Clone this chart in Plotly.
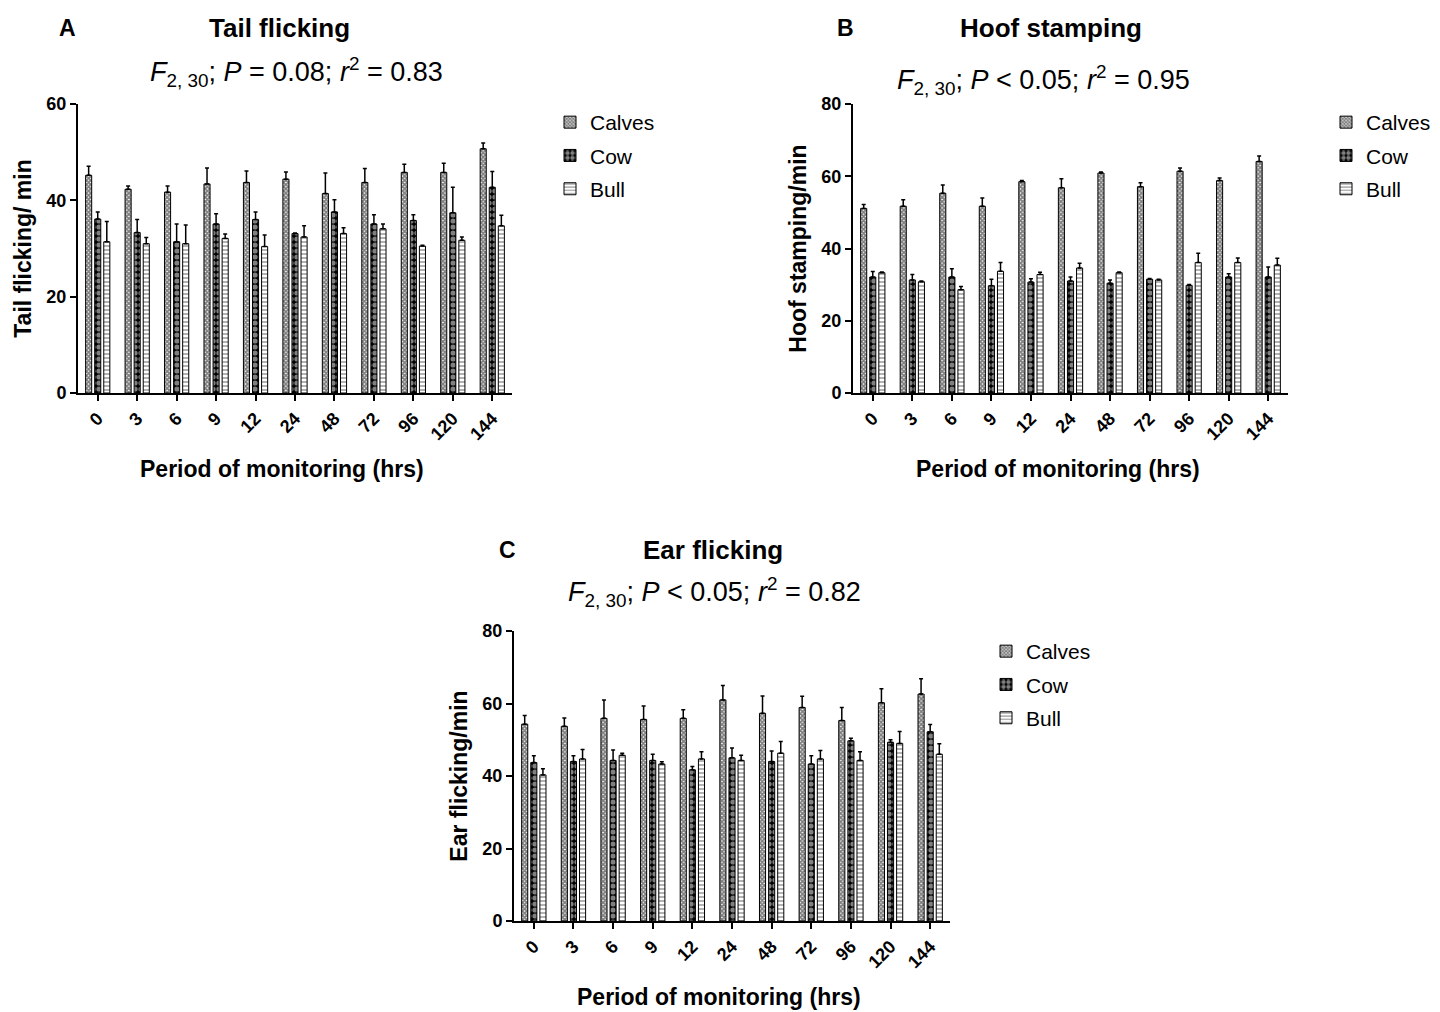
import plotly.graph_objects as go

periods = ["0", "3", "6", "9", "12", "24", "48", "72", "96", "120", "144"]
series_names = ["Calves", "Cow", "Bull"]

# Panel A: Tail flicking
tail_calves = [45.2, 42.3, 41.7, 43.4, 43.7, 44.4, 41.4, 43.7, 45.8, 45.8, 50.7]
tail_cow = [36.1, 33.3, 31.4, 35.1, 36.0, 33.1, 37.6, 35.1, 35.8, 37.4, 42.7]
tail_bull = [31.4, 31.0, 31.0, 32.1, 30.4, 32.4, 33.1, 34.1, 30.5, 31.7, 34.7]
tail_calves_err = [1.9, 0.7, 1.3, 3.3, 2.4, 1.5, 4.3, 2.9, 1.7, 1.9, 1.2]
tail_cow_err = [1.5, 2.7, 3.7, 2.1, 1.6, 0.1, 2.5, 1.9, 1.2, 5.3, 3.3]
tail_bull_err = [4.2, 1.3, 3.9, 0.9, 2.4, 2.3, 1.2, 1.0, 0.2, 0.7, 2.2]

# Panel B: Hoof stamping
hoof_calves = [51.1, 51.7, 55.3, 51.7, 58.5, 56.8, 60.9, 57.1, 61.4, 58.8, 64.1]
hoof_cow = [32.1, 31.3, 32.1, 29.7, 30.7, 31.0, 30.4, 31.5, 29.8, 32.1, 32.1]
hoof_bull = [33.3, 30.8, 28.6, 33.7, 32.8, 34.6, 33.3, 31.3, 36.1, 36.1, 35.4]
hoof_calves_err = [1.1, 1.8, 2.3, 2.3, 0.3, 2.5, 0.3, 1.1, 0.9, 0.7, 1.5]
hoof_cow_err = [1.5, 1.5, 2.3, 1.8, 0.9, 1.1, 0.9, 0.2, 0.2, 0.9, 2.8]
hoof_bull_err = [0.2, 0.2, 0.9, 2.4, 0.6, 1.3, 0.2, 0.2, 2.6, 1.3, 1.9]

# Panel C: Ear flicking
ear_calves = [54.3, 53.7, 55.9, 55.6, 55.9, 61.0, 57.3, 58.9, 55.3, 60.2, 62.6]
ear_cow = [43.7, 44.0, 44.3, 44.3, 41.7, 45.0, 44.0, 43.3, 49.7, 49.3, 52.2]
ear_bull = [40.3, 44.7, 45.7, 43.3, 44.7, 44.3, 46.3, 44.7, 44.3, 49.0, 46.0]
ear_calves_err = [2.4, 2.3, 5.1, 3.7, 2.4, 4.0, 4.8, 3.1, 3.6, 3.9, 4.2]
ear_cow_err = [1.9, 1.6, 2.9, 1.7, 0.9, 2.7, 2.9, 2.3, 0.7, 0.7, 2.0]
ear_bull_err = [1.7, 2.6, 0.6, 0.6, 2.0, 1.4, 3.2, 2.3, 2.4, 3.3, 2.9]

x_title = "Period of monitoring (hrs)"

FONT = "Arial, Liberation Sans, sans-serif"

# page offset (body margin) and figure size
OFF = 8
W, H = 1432, 1004

def fx(px):
    return (px - OFF) / W

def fy(py):
    return 1 - (py - OFF) / H

patterns = {
    "Calves": dict(shape="x", fgcolor="black", bgcolor="white", size=3, solidity=0.8),
    "Cow": dict(shape=".", fgcolor="white", bgcolor="black", size=6, solidity=0.6),
    "Bull": dict(shape="-", fgcolor="black", bgcolor="white", size=4, solidity=0.3),
}

panels = [
    ("x", "y", "legend", [tail_calves, tail_cow, tail_bull],
     [tail_calves_err, tail_cow_err, tail_bull_err]),
    ("x2", "y2", "legend2", [hoof_calves, hoof_cow, hoof_bull],
     [hoof_calves_err, hoof_cow_err, hoof_bull_err]),
    ("x3", "y3", "legend3", [ear_calves, ear_cow, ear_bull],
     [ear_calves_err, ear_cow_err, ear_bull_err]),
]

fig = go.Figure()
for xa, ya, lg, vals, errs in panels:
    for name, v, e in zip(series_names, vals, errs):
        fig.add_trace(go.Bar(
            x=periods, y=v, name=name, xaxis=xa, yaxis=ya, legend=lg,
            legendgroup=lg + name,
            marker=dict(color="white", line=dict(color="black", width=1),
                        pattern=patterns[name]),
            error_y=dict(type="data", array=e, arrayminus=[0] * len(e),
                         symmetric=False, color="black", thickness=1.5, width=2),
        ))

xcommon = dict(type="category", range=[-0.5, 10.5], showline=True, linecolor="black",
               linewidth=2, ticks="outside", ticklen=6, tickwidth=2, tickcolor="black",
               tickangle=-45, tickfont=dict(family=FONT, size=18, color="black", weight="bold"),
               showgrid=False, zeroline=False, automargin=False)
ycommon = dict(showline=True, linecolor="black", linewidth=2, ticks="outside", ticklen=6,
               tickwidth=2, tickcolor="black",
               tickfont=dict(family=FONT, size=18, color="black", weight="bold"),
               showgrid=False, zeroline=False, automargin=False)

def yt(text):
    return dict(text=text, font=dict(family=FONT, size=23, color="black", weight="bold"), standoff=8)

legend_common = dict(font=dict(family=FONT, size=21, color="black"), bgcolor="rgba(0,0,0,0)",
                     xanchor="left", yanchor="top", tracegroupgap=3, itemwidth=30)

fig.update_layout(
    width=W, height=H, paper_bgcolor="white", plot_bgcolor="white",
    margin=dict(l=0, r=0, t=0, b=0, pad=0, autoexpand=False),
    barmode="group", bargap=0.31, bargroupgap=0.33,
    font=dict(family=FONT, color="black"),
    xaxis=dict(domain=[fx(78), fx(512)], anchor="y", **xcommon),
    yaxis=dict(domain=[fy(393), fy(104)], anchor="x", range=[0, 60], dtick=20,
               title=yt("Tail flicking/ min"), **ycommon),
    xaxis2=dict(domain=[fx(853), fx(1288)], anchor="y2", **xcommon),
    yaxis2=dict(domain=[fy(393), fy(104)], anchor="x2", range=[0, 80], dtick=20,
                title=yt("Hoof stamping/min"), **ycommon),
    xaxis3=dict(domain=[fx(514), fx(950)], anchor="y3", **xcommon),
    yaxis3=dict(domain=[fy(921), fy(631)], anchor="x3", range=[0, 80], dtick=20,
                title=yt("Ear flicking/min"), **ycommon),
    legend=dict(x=fx(550), y=fy(102), **legend_common),
    legend2=dict(x=fx(1326), y=fy(102), **legend_common),
    legend3=dict(x=fx(986), y=fy(631), **legend_common),
)

def ann(x, y, text, size, bold=False, xanchor="center"):
    fig.add_annotation(x=fx(x), y=fy(y), xref="paper", yref="paper", text=text,
                       showarrow=False, xanchor=xanchor, yanchor="middle",
                       font=dict(family=FONT, size=size, color="black",
                                 weight="bold" if bold else "normal"))

sub_a = "<i>F</i><sub>2, 30</sub>; <i>P</i> = 0.08; <i>r</i><sup>2</sup> = 0.83"
sub_b = "<i>F</i><sub>2, 30</sub>; <i>P</i> &lt; 0.05; <i>r</i><sup>2</sup> = 0.95"
sub_c = "<i>F</i><sub>2, 30</sub>; <i>P</i> &lt; 0.05; <i>r</i><sup>2</sup> = 0.82"

ann(68, 28, "A", 23, True)
ann(279, 28, "Tail flicking", 26, True)
ann(296, 72, sub_a, 27)
ann(845, 28, "B", 23, True)
ann(1051, 28, "Hoof stamping", 26, True)
ann(1043, 80, sub_b, 27)
ann(507, 550, "C", 23, True)
ann(713, 550, "Ear flicking", 26, True)
ann(714, 592, sub_c, 27)

ann(282, 469, x_title, 23, True)
ann(1058, 469, x_title, 23, True)
ann(719, 997, x_title, 23, True)

fig.write_html("out.html")
